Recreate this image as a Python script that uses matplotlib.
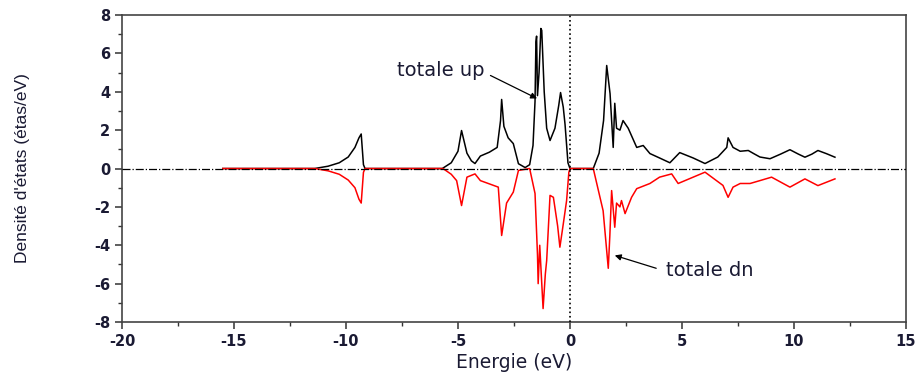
import matplotlib
matplotlib.use("Agg")
import matplotlib.pyplot as plt
from matplotlib.ticker import MultipleLocator

plt.rcParams['font.family'] = ['Liberation Sans', 'DejaVu Sans']
plt.rcParams['axes.unicode_minus'] = False

# Energy grid (eV) and DOS values
e_up = [-15.5, -11.4, -10.8, -10.3, -9.9, -9.6, -9.42, -9.32, -9.22, -9.15,
        -5.7, -5.3, -5.0, -4.84, -4.6, -4.4, -4.24, -4.0, -3.6, -3.25,
        -3.1, -3.05, -2.95, -2.76, -2.53, -2.3, -2.0, -1.8, -1.65, -1.56,
        -1.52, -1.49, -1.45, -1.38, -1.3, -1.26, -1.15, -1.04, -0.89, -0.67,
        -0.5, -0.42, -0.3, -0.22, -0.09, 0.0, 0.5, 1.04, 1.3, 1.5,
        1.64, 1.79, 1.93, 2.0, 2.08, 2.23, 2.37, 2.6, 2.98, 3.27,
        3.57, 4.0, 4.46, 4.9, 5.5, 6.03, 6.6, 7.0, 7.06, 7.28,
        7.6, 7.96, 8.2, 8.48, 8.93, 9.4, 9.82, 10.2, 10.49, 10.8,
        11.07, 11.46, 11.83]
dos_up = [0, 0, 0.12, 0.3, 0.6, 1.1, 1.6, 1.8, 0.2, 0,
          0, 0.3, 0.9, 1.98, 0.8, 0.4, 0.26, 0.65, 0.85, 1.1,
          2.5, 3.6, 2.2, 1.6, 1.3, 0.25, 0.05, 0.2, 1.2, 3.5,
          6.6, 6.9, 3.8, 5.0, 7.3, 7.2, 4.0, 2.1, 1.46, 2.1,
          3.3, 3.96, 3.2, 2.3, 0.3, 0, 0, 0, 0.8, 2.5,
          5.37, 3.9, 1.1, 3.4, 2.1, 2.0, 2.5, 2.1, 1.1, 1.2,
          0.78, 0.55, 0.3, 0.83, 0.55, 0.26, 0.6, 1.1, 1.6, 1.1,
          0.9, 0.94, 0.78, 0.6, 0.51, 0.75, 0.98, 0.75, 0.59, 0.75,
          0.94, 0.77, 0.59]

e_dn = [-15.5, -11.4, -10.8, -10.3, -9.9, -9.6, -9.42, -9.32, -9.22, -9.15,
        -5.67, -5.3, -5.06, -4.84, -4.6, -4.24, -4.0, -3.2, -3.05, -2.83,
        -2.53, -2.3, -1.8, -1.56, -1.45, -1.42, -1.35, -1.2, -1.1, -1.04,
        -0.89, -0.74, -0.55, -0.45, -0.3, -0.15, -0.05, 0.0, 1.04, 1.48,
        1.71, 1.78, 1.86, 2.0, 2.08, 2.23, 2.3, 2.46, 2.75, 2.98,
        3.57, 4.0, 4.54, 4.83, 5.5, 6.03, 6.83, 7.06, 7.28, 7.6,
        8.04, 8.48, 9.0, 9.82, 10.49, 11.07, 11.83]
dos_dn = [0, 0, -0.12, -0.3, -0.6, -1.0, -1.6, -1.8, -0.2, 0,
          0, -0.3, -0.63, -1.93, -0.45, -0.28, -0.63, -0.97, -3.49, -1.8,
          -1.23, -0.1, 0, -1.3, -4.5, -6.0, -4.0, -7.3, -5.5, -4.8,
          -1.4, -1.5, -3.0, -4.1, -2.9, -1.67, -0.2, 0, 0, -2.2,
          -5.2, -3.5, -1.15, -3.06, -1.8, -2.0, -1.67, -2.35, -1.5, -1.05,
          -0.78, -0.45, -0.28, -0.78, -0.45, -0.19, -0.88, -1.5, -0.97, -0.78,
          -0.78, -0.63, -0.45, -0.97, -0.54, -0.89, -0.54]

label_up = "totale up"
label_dn = "totale dn"

fig = plt.figure(figsize=(9.22, 3.76), dpi=100)
ax = fig.add_axes([0.1323, 0.1436, 0.8503, 0.8164])

ax.plot(e_up, dos_up, color='black', lw=1.1, zorder=2)
ax.plot(e_dn, dos_dn, color='red', lw=1.1, zorder=2)
ax.axhline(0, color='black', lw=0.9, ls='-.', zorder=3)
ax.axvline(0, color='black', lw=1.2, ls=':', zorder=3)

ax.set_xlim(-20, 15)
ax.set_ylim(-8, 8)
ax.xaxis.set_major_locator(MultipleLocator(5))
ax.xaxis.set_minor_locator(MultipleLocator(2.5))
ax.yaxis.set_major_locator(MultipleLocator(2))
ax.yaxis.set_minor_locator(MultipleLocator(1))
ax.tick_params(which='major', direction='out', length=5, width=1.1,
               labelsize=10.5, colors='#333333', labelcolor='#1a1a33')
ax.tick_params(which='minor', direction='out', length=3, width=1.0, colors='#333333')
for lab in ax.get_xticklabels() + ax.get_yticklabels():
    lab.set_fontweight('bold')
    lab.set_family('DejaVu Sans')
for s in ax.spines.values():
    s.set_linewidth(1.2)
    s.set_color('#444444')

ax.set_xlabel("Energie (eV)", fontsize=13.5, family='DejaVu Sans',
              color='#1a1a33', labelpad=3)
ax.set_ylabel("Densité d'états (étas/eV)", fontsize=12.5, color='#1a1a33', labelpad=46)

ax.text(-3.8, 5.1, label_up, fontsize=14, family='DejaVu Sans',
        color='#1a1a33', va='center', ha='right')
ax.annotate('', xy=(-1.47, 3.65), xytext=(-3.55, 4.85),
            arrowprops=dict(arrowstyle='-|>', color='black', lw=0.9,
                            shrinkA=0, shrinkB=0, mutation_scale=9))
ax.text(4.3, -5.3, label_dn, fontsize=14, family='DejaVu Sans',
        color='#1a1a33', va='center', ha='left')
ax.annotate('', xy=(2.0, -4.53), xytext=(3.85, -5.2),
            arrowprops=dict(arrowstyle='-|>', color='black', lw=0.9,
                            shrinkA=0, shrinkB=0, mutation_scale=9))

fig.savefig("out.png", dpi=100)
